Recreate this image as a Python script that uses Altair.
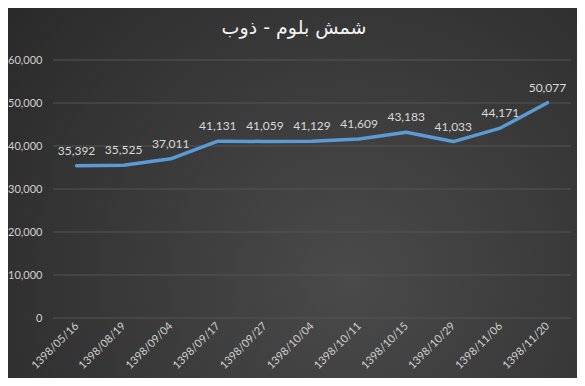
import altair as alt
import pandas as pd

dates = ["1398/05/16", "1398/08/19", "1398/09/04", "1398/09/17", "1398/09/27",
         "1398/10/04", "1398/10/11", "1398/10/15", "1398/10/29", "1398/11/06", "1398/11/20"]
values = [35392, 35525, 37011, 41131, 41059, 41129, 41609, 43183, 41033, 44171, 50077]
y_ticks = [0, 10000, 20000, 30000, 40000, 50000, 60000]
title_text = "شمش بلوم - ذوب"

df = pd.DataFrame({"date": dates, "value": values})
grid_df = pd.DataFrame({"value": y_ticks})

W, H = 518, 258
PL, PT, PR, PB = 45, 52, 6, 60

x_enc = alt.X("date:N", sort=dates,
              scale=alt.Scale(type="point", padding=0.5),
              axis=alt.Axis(title=None, labelAngle=-45, labelAlign="right", labelBaseline="middle",
                            labelColor="#d0d0d0", labelFont="Lato", labelFontSize=11,
                            labelPadding=6, ticks=False, domain=False, grid=False, zindex=1))
y_enc = alt.Y("value:Q", scale=alt.Scale(domain=[0, 60000], nice=False),
              axis=alt.Axis(title=None, values=y_ticks, format=",.0f", labelColor="#d0d0d0",
                            labelFont="Lato", labelFontSize=11, labelPadding=11,
                            ticks=False, domain=False, grid=False, zindex=1))

bg = alt.Chart(df).mark_rect(
    clip=False,
    color=alt.RadialGradient(gradient="radial", x1=0.6, y1=0.65, r1=0, x2=0.6, y2=0.65, r2=0.85,
                             stops=[alt.GradientStop(color="#4a4a4a", offset=0),
                                    alt.GradientStop(color="#262626", offset=1)])
).encode(x=alt.value(-PL), x2=alt.value(W + PR), y=alt.value(-PT), y2=alt.value(H + PB))

grid = alt.Chart(grid_df).mark_rule(color="#555555", strokeWidth=1).encode(
    y=y_enc, x=alt.value(0), x2=alt.value(W))

line = alt.Chart(df).mark_line(color="#5b9bd5", strokeWidth=3.5, strokeCap="round",
                               strokeJoin="round").encode(x=x_enc, y=y_enc)

labels = alt.Chart(df).mark_text(color="#d9d9d9", font="Lato", fontSize=12, dy=-15,
                                 baseline="middle").encode(
    x=x_enc, y=y_enc, text=alt.Text("value:Q", format=",.0f"))

chart = alt.layer(bg, grid, line, labels).properties(
    width=W, height=H,
    autosize=alt.AutoSizeParams(type="none"),
    padding={"left": PL, "top": PT, "right": PR, "bottom": PB},
    background="#2b2b2b",
    title=alt.Title(title_text, color="#f4f4f4", font="DejaVu Sans", fontSize=19,
                    fontWeight="normal", anchor="middle", dx=-18, offset=0, dy=30),
).configure_view(stroke=None)

chart.save("out.html", embed_options={"renderer": "svg", "actions": False})
